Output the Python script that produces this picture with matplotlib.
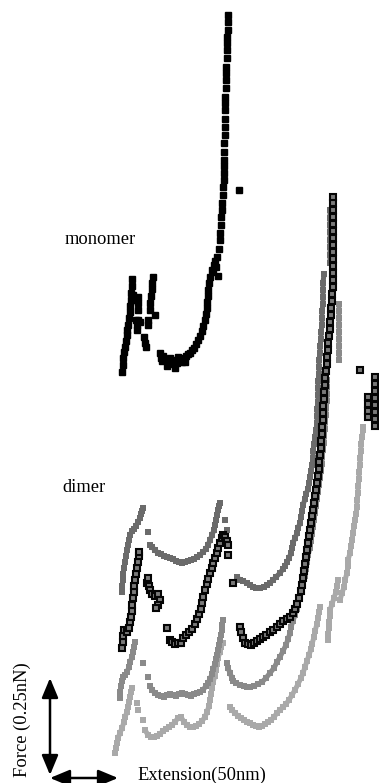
import numpy as np
import matplotlib
matplotlib.use("Agg")
import matplotlib.pyplot as plt

nan = np.nan

# ---- Force-extension traces (extension to the right, force upward; screen-style units) ----
# monomer trace (discrete samples)
mono_x = [122, 123, 123, 124, 125, 126, 127, 127, 128, 129, 130, 130, 131, 131, 132, 132,
          133, 134, 136, 137, 137, 138, 138, 138, 138, 140,
          144, 145, 146, 148, 148, 150, 150, 151, 152, 152, 153, 155,
          160, 161, 162, 163, 165, 167, 169, 170, 172, 174, 175, 177, 178, 179, 182, 184, 185,
          186, 188, 190, 192, 194, 196, 198, 200, 202, 203, 205, 206, 207, 207, 208, 208, 209,
          210, 212, 213, 214, 215, 216, 218, 217, 219, 220, 220, 221, 221, 222, 222, 223, 223,
          224, 224, 224, 224, 224, 224, 225, 225, 225, 225, 225, 225, 226, 226, 226, 226, 227,
          227, 227, 227, 228, 228, 228]
mono_y = [372, 365, 358, 352, 347, 341, 335, 330, 325, 318, 312, 306, 300, 293, 286, 279,
          295, 300, 320, 325, 330, 320, 310, 303, 297, 322,
          337, 343, 347, 325, 320, 310, 303, 296, 289, 283, 277, 315,
          353, 358, 361, 356, 360, 366, 362, 358, 360, 364, 368, 363, 357, 361, 362, 358, 362,
          356, 354, 353, 350, 348, 344, 340, 336, 331, 326, 320, 314, 308, 302, 296, 290, 283,
          277, 270, 272, 265, 261, 267, 276, 257, 249, 240, 233, 225, 217, 210, 203, 195, 187,
          180, 173, 166, 160, 152, 143, 135, 127, 119, 110, 103, 97, 88, 80, 73, 67, 58,
          50, 43, 37, 30, 22, 15]
mono_out_x = [239]
mono_out_y = [190]

# dimer trace A (dark grey)
a_x = [122, 122, 123, 123, 124, 125, 126, 127, 128, 129, 130, 132, 134, 136, 138, 140, 141, 142, 143,
       nan,
       150, 152, 155, 158, 161, 164, 167, 170, 173, 176, 179, 182, 185, 188, 191, 194, 197, 200,
       203, 206, 208, 210, 212, 214, 215, 216, 217, 218, 219, 220,
       nan,
       237, 240, 243, 247, 250, 253, 256, 260, 264, 267, 270, 273, 276, 280, 283, 285, 287, 289,
       291, 292, 293, 295, 297, 298, 300, 301, 302, 303, 305, 306, 308, 309, 310, 311, 312, 313,
       313, 314, 315, 316, 317, 317, 317, 318, 318, 318, 318, 319, 319, 319, 320, 320, 321, 321,
       322, 322, 322, 323, 323, 323, 323, 324,
       nan,
       330, 330, 330, 330, 330, 330, 330, 330]
a_y = [592, 586, 580, 574, 568, 562, 556, 550, 545, 540, 535, 531, 529, 526, 522, 518, 514, 511, 508,
       nan,
       545, 547, 550, 553, 554, 556, 557, 558, 559, 561, 562, 563, 562, 561, 560, 559, 557, 555,
       552, 549, 545, 540, 535, 530, 525, 520, 515, 510, 506, 503,
       nan,
       577, 580, 581, 583, 585, 587, 588, 588, 587, 585, 583, 580, 577, 573, 569, 566, 562, 558,
       553, 548, 543, 538, 533, 528, 523, 517, 511, 505, 499, 494, 489, 483, 477, 471, 465, 458,
       451, 444, 437, 430, 423, 416, 409, 402, 395, 388, 381, 374, 367, 360, 353, 346, 339, 332,
       325, 318, 311, 304, 297, 290, 283, 274,
       nan,
       263, 255, 247, 240, 232, 225, 218, 210]
a_out_x = [148, 225, 227]
a_out_y = [532, 520, 530]

# dimer trace B (black, open squares)
b_x = [122, 123, 123, 124, 127, 129, 130, 131, 132, 132, 133, 134, 134, 135, 136, 137, 138, 139, 139,
       nan,
       147, 148, 149, 150, 152, 155, 158, 160, 158, 156,
       nan,
       170, 172, 175, 178, 181, 183, 186, 189, 192, 195, 197, 199, 201, 202, 203, 205, 207, 208,
       210, 212, 213, 215, 217, 218, 220, 222, 223, 225, 227, 228,
       nan,
       240, 241, 243, 245, 248, 251, 254, 257, 260, 263, 266, 270, 273, 277, 280, 283, 287, 290,
       293, 295, 297, 299, 301, 302, 303, 304, 305, 306, 307, 308, 309, 310, 311, 312, 313, 314,
       315, 316, 317, 318, 319, 319, 320, 321, 321, 322, 322, 323, 323, 323, 324, 324, 325, 325,
       326, 327, 327, 328, 328, 329, 330, 330, 331, 331, 332, 332, 333, 333, 333, 333, 333, 333,
       333, 333, 333, 333, 333, 333, 333, 333]
b_y = [648, 642, 636, 630, 632, 628, 622, 617, 611, 605, 598, 592, 586, 580, 574, 568, 562, 556, 552,
       nan,
       583, 578, 586, 590, 594, 596, 594, 600, 605, 608,
       nan,
       640, 642, 644, 643, 643, 638, 635, 632, 629, 624, 619, 614, 609, 603, 597, 590, 584, 579,
       573, 568, 563, 558, 553, 548, 543, 538, 535, 537, 541, 545,
       nan,
       627, 632, 638, 643, 644, 645, 643, 641, 639, 637, 635, 632, 630, 627, 624, 621, 619, 617,
       613, 609, 604, 598, 591, 585, 578, 571, 564, 557, 550, 543, 536, 530, 523, 516, 510, 503,
       496, 490, 483, 476, 469, 462, 455, 448, 441, 434, 427, 420, 413, 406, 399, 392, 385, 378,
       371, 364, 357, 350, 343, 336, 329, 322, 315, 308, 301, 294, 287, 280, 273, 266, 259, 252,
       245, 238, 231, 224, 217, 210, 203, 197]
b_out_x = [167, 228, 233, 360, 368, 368, 368, 368, 375, 375, 375, 375, 375, 375, 375, 375]
b_out_y = [628, 555, 583, 370, 397, 404, 411, 417, 377, 384, 391, 398, 405, 412, 419, 426]

# dimer trace C (mid grey)
c_x = [120, 120, 121, 122, 123, 125, 127, 129, 130, 132, 133, 134, 135,
       nan,
       150, 152, 155, 158, 161, 164, 167, 170, 173, 176, 179, 182, 185, 188, 191, 194, 197, 200,
       203, 206, 208, 210, 212, 213, 215, 216, 217, 218, 219, 220, 221, 222, 222, 223,
       nan,
       227, 228, 230, 232, 233, 236, 240, 244, 247, 250, 254, 258, 262, 266, 270, 274, 277, 280,
       283, 286, 288, 290, 291, 293, 295, 297, 298, 300, 302, 303, 305, 306, 307, 308, 310, 311,
       312, 313, 314, 315, 316, 317, 318, 319, 320, 321, 322, 322, 323, 324, 324, 325, 325, 326,
       326, 327, 327, 327, 327,
       nan,
       339, 339, 339, 339, 339, 339, 339, 339, 339]
c_y = [698, 692, 686, 681, 677, 675, 672, 667, 662, 657, 652, 647, 642,
       nan,
       686, 690, 693, 695, 696, 697, 695, 694, 695, 696, 694, 693, 694, 695, 696, 694, 693, 692,
       690, 686, 683, 679, 674, 669, 664, 659, 655, 650, 645, 640, 635, 630, 625, 620,
       nan,
       663, 668, 673, 678, 681, 683, 685, 686, 687, 687, 686, 684, 682, 678, 673, 668, 662, 657,
       651, 645, 639, 633, 627, 621, 615, 609, 603, 597, 590, 583, 576, 569, 562, 555, 548, 541,
       534, 527, 520, 513, 506, 499, 492, 485, 478, 471, 464, 457, 450, 443, 436, 429, 422, 415,
       408, 401, 394, 387, 380,
       nan,
       360, 353, 346, 339, 332, 325, 318, 311, 304]
c_out_x = [143, 148]
c_out_y = [663, 677]

# dimer trace D (light grey)
d_x = [115, 116, 117, 118, 120, 122, 124, 125, 127, 128, 129, 130, 131, 132,
       nan,
       145, 148, 151, 154, 157, 160, 163, 166, 169, 172, 175, 178, 181, 184, 187, 190, 193, 196,
       199, 202, 205, 207, 209, 210, 211, 212, 213, 215, 216, 217, 218, 220, 221, 223,
       nan,
       230, 232, 235, 238, 241, 244, 247, 250, 253, 256, 259, 262, 265, 268, 271, 274, 277, 280,
       283, 286, 289, 292, 295, 298, 301, 303, 305, 307, 309, 311, 312, 314, 315, 317, 318, 319,
       320,
       nan,
       328, 328, 329, 329, 330, 330, 332, 334, 336, 337, 338,
       nan,
       340, 342, 344, 345, 347, 348, 348, 350, 351, 352, 353, 354, 355, 356, 357, 357, 358, 358,
       359, 359, 360, 360, 361, 361, 362, 363, 363]
d_y = [753, 748, 743, 738, 733, 728, 722, 717, 712, 707, 702, 697, 692, 688,
       nan,
       730, 735, 737, 737, 736, 734, 731, 729, 727, 725, 722, 718, 717, 722, 725, 727, 727, 726,
       724, 721, 717, 712, 706, 700, 694, 688, 682, 676, 670, 664, 658, 652, 647, 643,
       nan,
       707, 710, 713, 716, 718, 720, 722, 723, 725, 726, 727, 726, 724, 722, 720, 717, 713, 710,
       707, 704, 700, 695, 690, 684, 678, 673, 667, 661, 655, 649, 644, 637, 631, 624, 618, 612,
       607,
       nan,
       640, 634, 628, 622, 616, 610, 604, 598, 592, 586, 580,
       nan,
       600, 593, 587, 580, 573, 566, 560, 553, 546, 540, 533, 526, 520, 514, 507, 500, 493, 486,
       479, 472, 465, 458, 451, 444, 437, 430, 427]
d_out_x = [137, 138, 143]
d_out_y = [703, 710, 720]

# scale bars
force_bar = (678, 775)      # 0.25 nN
ext_bar = (50, 118)         # 50 nm

W, H = 379, 783
fig = plt.figure(figsize=(W / 100, H / 100), dpi=100)
ax = fig.add_axes([0, 0, 1, 1])
ax.set_xlim(0, W)
ax.set_ylim(H, 0)
ax.axis("off")

ms = 4.3
def trace(x, y, ox, oy, color, lw=3.6, face=None, edge=None, mew=0.0, z=2):
    face = color if face is None else face
    edge = color if edge is None else edge
    ax.plot(x, y, "-", color=color, lw=lw, zorder=z, solid_capstyle="butt")
    ax.plot(x, y, "s", ms=ms, mfc=face, mec=edge, mew=mew, zorder=z + 0.1, ls="none")
    ax.plot(ox, oy, "s", ms=ms, mfc=face, mec=edge, mew=mew, zorder=z + 0.1, ls="none")

trace(d_x, d_y, d_out_x, d_out_y, "#a9a9a9", z=2)
trace(c_x, c_y, c_out_x, c_out_y, "#8a8a8a", z=3)
trace(a_x, a_y, a_out_x, a_out_y, "#6b6b6b", z=4)
trace(b_x, b_y, b_out_x, b_out_y, "#111111", lw=3.2, face="#7a7a7a", edge="#050505",
      mew=1.5, z=5)

ax.plot(mono_x, mono_y, "s", ms=4.3, color="black", ls="none", zorder=6)
ax.plot(mono_out_x, mono_out_y, "s", ms=4.3, color="black", ls="none", zorder=6)

serif = "Liberation Serif"
ax.text(65, 240, "monomer", fontsize=13.3, family=serif, va="center", ha="left")
ax.text(62, 487, "dimer", fontsize=13.3, family=serif, va="center", ha="left")
ax.text(137, 775, "Extension(50nm)", fontsize=13.3, family=serif, va="center", ha="left")
ax.text(22, 720, "Force (0.25nN)", fontsize=13.3, family=serif, va="center", ha="center",
        rotation=90)

arrow = dict(arrowstyle="<|-|>,head_length=0.6,head_width=0.25", mutation_scale=20,
             color="black", lw=1.8, shrinkA=0, shrinkB=0)
ax.annotate("", xy=(50, force_bar[0]), xytext=(50, force_bar[1]), arrowprops=arrow)
ax.annotate("", xy=(ext_bar[1], 778), xytext=(ext_bar[0], 778), arrowprops=arrow)

fig.savefig("out.png", dpi=100, facecolor="white")
